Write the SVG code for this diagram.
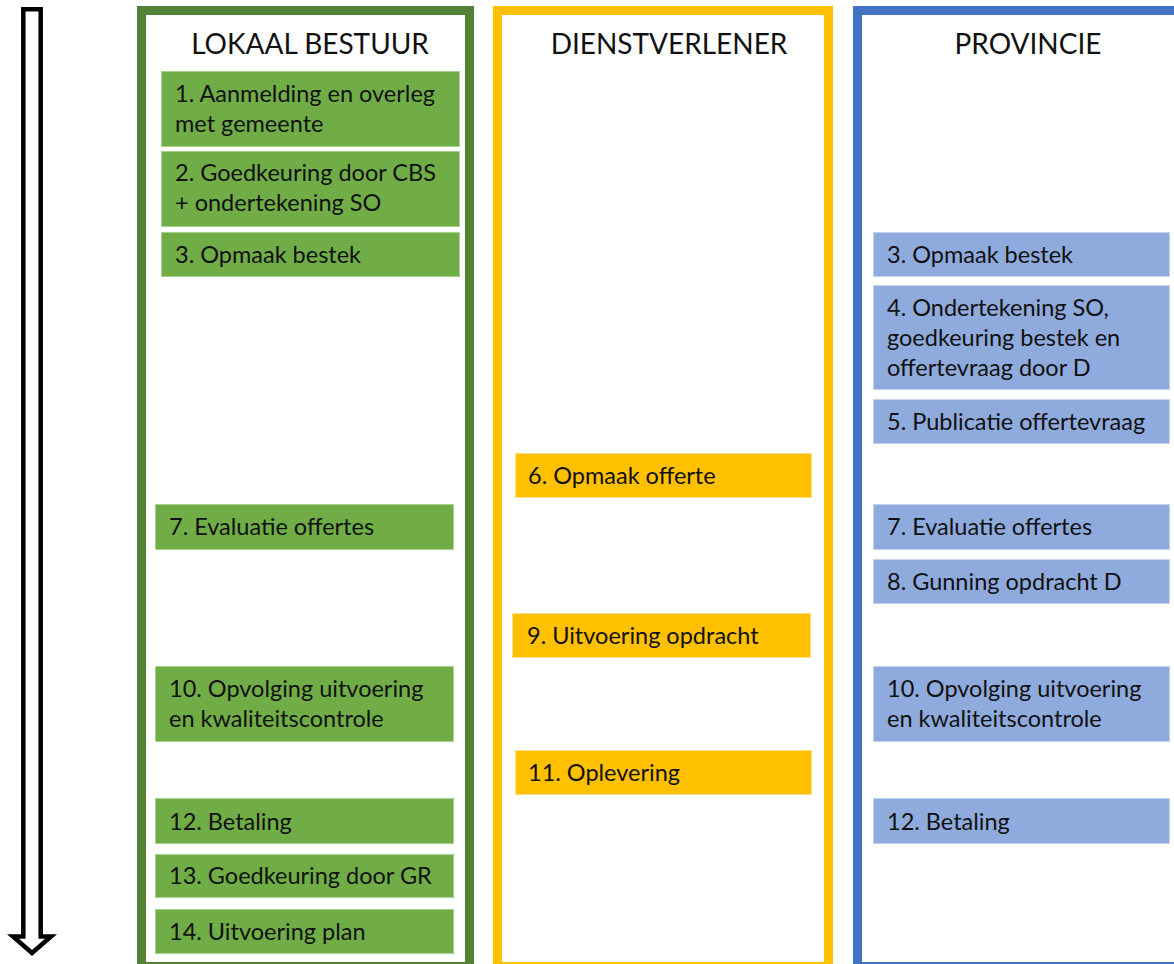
<svg xmlns="http://www.w3.org/2000/svg" width="1174" height="964" viewBox="0 0 1174 964">
<style>
.t{font-family:Lato,"Liberation Sans",sans-serif;font-size:23.5px;fill:#111}
.h{font-family:Lato,"Liberation Sans",sans-serif;font-size:28px;fill:#111;text-anchor:middle}
.g{fill:#70AD47;stroke:#A9D18E;stroke-width:1}
.y{fill:#FFC000;stroke:#FFE08A;stroke-width:1}
.b{fill:#8FAADC;stroke:#C5D3EE;stroke-width:1}
.lane{fill:#fff;stroke-width:9}
</style>
<rect width="1174" height="964" fill="#fff"/>
<g id="time-arrow">
<path d="M23.3,9.3 H40.7 V936.5 H51 L32,953 L13,936.5 H23.3 Z" fill="#fff" stroke="#000" stroke-width="4.5" stroke-linejoin="miter"/>
</g>
<g id="lane-lokaal">
<rect class="lane" x="141.5" y="10.5" width="328" height="956" stroke="#538135"/>
<text class="h" x="310" y="54">LOKAAL BESTUUR</text>
</g>
<g id="lane-dienst">
<rect class="lane" x="497.5" y="10.5" width="331" height="956" stroke="#FFC000"/>
<text class="h" x="669" y="54">DIENSTVERLENER</text>
</g>
<g id="lane-provincie">
<rect class="lane" x="857.5" y="10.5" width="330" height="956" stroke="#4472C4"/>
<text class="h" x="1028" y="54">PROVINCIE</text>
</g>
<g id="lb1"><rect class="g" x="161.5" y="71.5" width="298" height="75"/><text class="t" x="175" y="102">1. Aanmelding en overleg</text><text class="t" x="175" y="132">met gemeente</text></g>
<g id="lb2"><rect class="g" x="161.5" y="151.5" width="298" height="75"/><text class="t" x="175" y="181">2. Goedkeuring door CBS</text><text class="t" x="175" y="211">+ ondertekening SO</text></g>
<g id="lb3"><rect class="g" x="161.5" y="232.5" width="298" height="44"/><text class="t" x="175" y="263">3. Opmaak bestek</text></g>
<g id="lb7"><rect class="g" x="155.5" y="504.5" width="298" height="45"/><text class="t" x="169" y="535">7. Evaluatie offertes</text></g>
<g id="lb10"><rect class="g" x="155.5" y="666.5" width="298" height="75"/><text class="t" x="169" y="697">10. Opvolging uitvoering</text><text class="t" x="169" y="727">en kwaliteitscontrole</text></g>
<g id="lb12"><rect class="g" x="155.5" y="798.5" width="298" height="45"/><text class="t" x="169" y="830">12. Betaling</text></g>
<g id="lb13"><rect class="g" x="155.5" y="854.5" width="298" height="43"/><text class="t" x="169" y="884">13. Goedkeuring door GR</text></g>
<g id="lb14"><rect class="g" x="155.5" y="909.5" width="298" height="44"/><text class="t" x="169" y="940">14. Uitvoering plan</text></g>
<g id="d6"><rect class="y" x="515.5" y="453.5" width="296" height="44"/><text class="t" x="528" y="484">6. Opmaak offerte</text></g>
<g id="d9"><rect class="y" x="512.5" y="613.5" width="298" height="44"/><text class="t" x="527" y="644">9. Uitvoering opdracht</text></g>
<g id="d11"><rect class="y" x="515.5" y="750.5" width="296" height="44"/><text class="t" x="528" y="781">11. Oplevering</text></g>
<g id="p3"><rect class="b" x="873.5" y="232.5" width="296" height="44"/><text class="t" x="887" y="263">3. Opmaak bestek</text></g>
<g id="p4"><rect class="b" x="873.5" y="285.5" width="296" height="104"/><text class="t" x="887" y="316">4. Ondertekening SO,</text><text class="t" x="887" y="346">goedkeuring bestek en</text><text class="t" x="887" y="376">offertevraag door D</text></g>
<g id="p5"><rect class="b" x="873.5" y="399.5" width="296" height="44"/><text class="t" x="887" y="430">5. Publicatie offertevraag</text></g>
<g id="p7"><rect class="b" x="873.5" y="504.5" width="296" height="45"/><text class="t" x="887" y="535">7. Evaluatie offertes</text></g>
<g id="p8"><rect class="b" x="873.5" y="559.5" width="296" height="44"/><text class="t" x="887" y="590">8. Gunning opdracht D</text></g>
<g id="p10"><rect class="b" x="873.5" y="666.5" width="296" height="75"/><text class="t" x="887" y="697">10. Opvolging uitvoering</text><text class="t" x="887" y="727">en kwaliteitscontrole</text></g>
<g id="p12"><rect class="b" x="873.5" y="798.5" width="296" height="45"/><text class="t" x="887" y="830">12. Betaling</text></g>
<g id="connectors"></g>
</svg>
